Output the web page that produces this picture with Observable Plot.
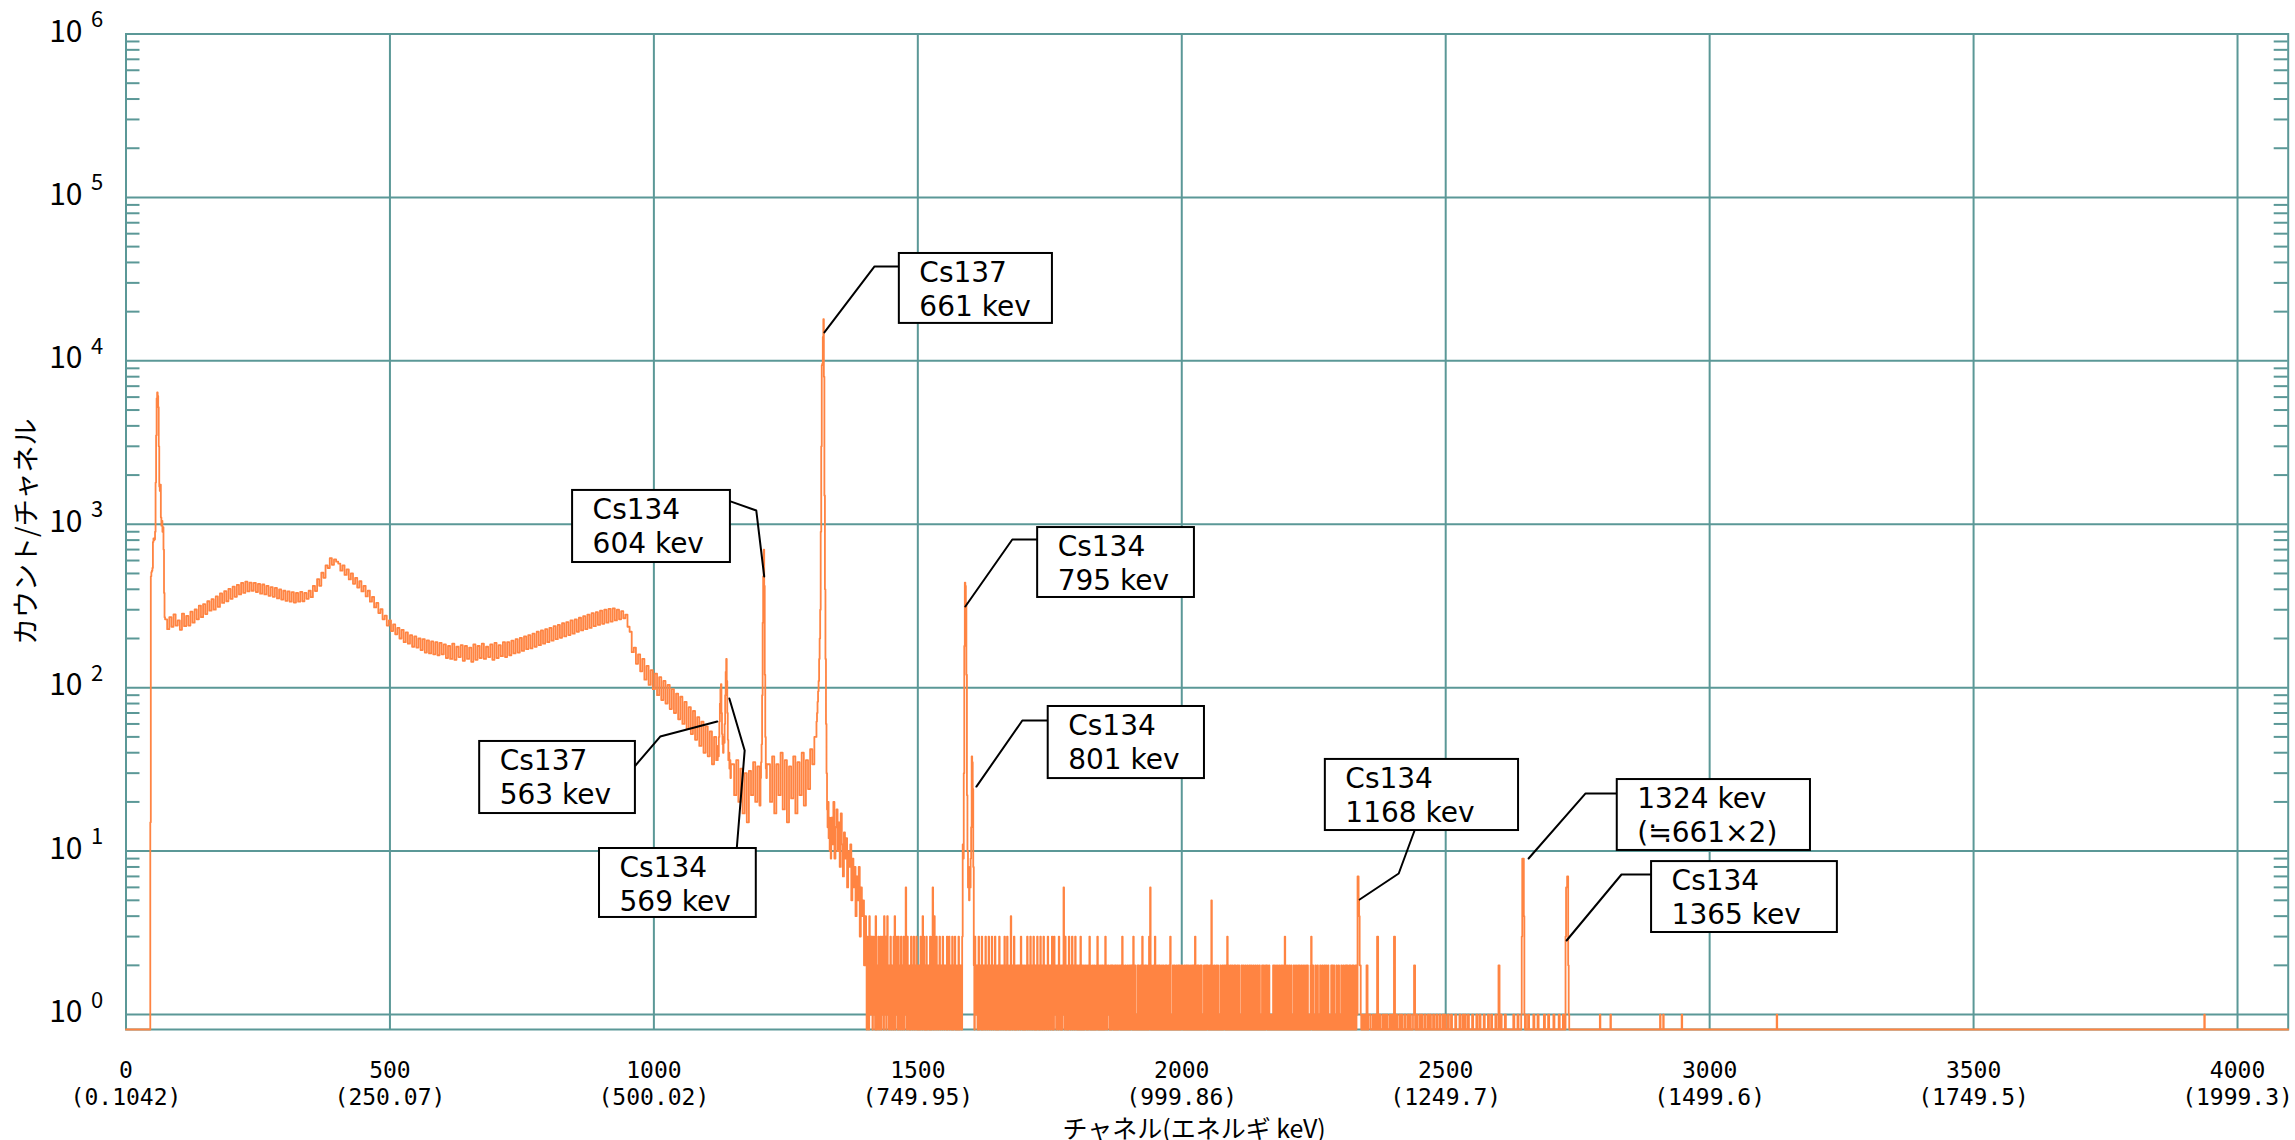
<!DOCTYPE html>
<html>
<head>
<meta charset="utf-8">
<script src="https://cdn.jsdelivr.net/npm/d3@7"></script>
<script src="https://cdn.jsdelivr.net/npm/@observablehq/plot@0.6"></script>
<style>
  html, body { margin: 0; padding: 0; background: #ffffff; }
  #chart svg { display: block; }
  g[aria-label="y-tick-label"], g[aria-label="y-tick-exp"] { font-feature-settings: "hwid" 1; }
</style>
</head>
<body>
<div id="chart"></div>
<script>
// ---------------- data ----------------
const xTicks = [0, 500, 1000, 1500, 2000, 2500, 3000, 3500, 4000];
const xEnergyLabels = ["0.1042", "250.07", "500.02", "749.95", "999.86", "1249.7", "1499.6", "1749.5", "1999.3"];
const yDecades = [1, 10, 100, 1000, 10000, 100000, 1000000];
const yExponents = ["0", "1", "2", "3", "4", "5", "6"];
const xTitle = "チャネル(エネルギ keV)";
const yTitle = "カウント/チャネル";

// spectrum: counts per channel (segments: start channel, channel step, counts)
const lowEnergyPeak = [15,480,510,520,540,780,820,800,810,900,1800,3500,5900,6400,6100,5200,3000,1700,1600,1750,1100,980,1050,900,960,700,380,270];
const continuumA = [
  262,228,270,236,281,240,258,226,284,238,
  275,240,292,250,301,262,318,270,325,282,338,296,
  348,300,362,312,378,330,390,338,402,350,415,360,426,372,438,380,446,388,440,392,
  438,385,432,376,428,372,420,365,412,360,408,352,400,346,392,340,388,336,384,332,380,336,386,338,380,350,
  392,358,420,390,462,420,505,470,560,540,620,565,610,590,
  575,520,560,490,530,460,500,432,470,410,448,388,420,362,392,336,360,310,330,286,302,262,276,240,258,222,244,212,
  232,200,226,190,218,186,210,178,206,176,200,170,198,164,195,162,192,160,190,158,188,160,
  184,152,180,150,186,148,178,154,182,146,180,150,176,144,184,148,180,152,186,150,178,154,184,148,188,152,182,156,190,154,
  190,158,194,162,198,164,202,168,206,172,210,174,214,178,220,182,224,186,228,190,
  232,194,238,198,242,202,248,206,252,210,258,214,262,220,268,224,274,228,280,232,
  286,238,290,242,296,246,300,250,304,254,306,258,300,262,294,266,
  280,236,220,165,176,140,160,126,150,112,136,104,128,98,
  122,90,116,84,110,80,104,74,98,70,92,64,88,60,82,56,76,52,72,48,66,44,62,40,58,38,54,34,50,36
];
const peak563569 = [44,38,50,62,80,98,105,70,52,45,40,50,46,60,90,125,150,110,70,48,36,40,32,36,28,34];
const continuumB = [34,22,36,20,32,17,30,15,31,22,35,20,33,19];
const peak604 = [28,35,45,90,250,480,700,420,120,50,32,28,34];
const continuumC = [34,20,38,17,34,22,40,18,36,15,33,21,38,17,35,22,40,19,36,24,42,34,50,62];
const peak661 = [70,82,95,110,150,200,300,900,3000,9400,9600,14000,18000,8000,1500,400,150,60,30,18,14,20,12,16,10,14,9];
const tail661 = [16,11,20,9,14,18,10,15,8,17,11,7,13,9,12,6,10,8,11,5,9,6,8,4,7,5,8,3,6,4,5,2,4];
// one digit per channel, channels 1402–1581
const lowCounts1 =
  "2031204213 1302312041 0213021302 3120421301 4120213012 2031402132 0312023102 1302162031 2012031202 " +
  "3102130210 2103120413 0210302120 1302036204 1203120213 0212031202 2103021302 1203102130 2012031021";
const peak795801 = [2,0,3,11,9,30,180,440,420,330,120,22,10,6,8,5,7,6,9,14,38,35,24,8,2,0,3,1,2];
// one digit per channel, channels 1611–2330
const lowCounts2 =
  "1201302120 3102120312 0213021203 1202130210 2103120212 0213021031 2012041202 1302102120 2120312021 0210213012 " +
  "2031202130 1202031202 0312021302 2102130212 0213020312 2012103120 1202162031 2012031202 1302120312 0210210320 " +
  "2102012102 1021302101 2012010213 0210201202 1020312012 2101202120 0120210201 2102013021 0120102102 1021201302 " +
  "2010120210 1201302102 0210120316 0201020130 1020120201 0210201020 2010210301 1020120102 0120201021 2010201202 " +
  "1020102012 0201301020 2010202101 0210202120 1021052010 2010210201 0120102012 1020130210 0210201020 2010210201 " +
  "1020120102 0102010210 2010201020 1020102010 0201201021 2010210101 1020120102 0102010210 2010301020 1020102010 " +
  "0201020102 1020102010 2010201201 0102310201 1020102010 0201020102 1020102010 0120210201 1020102010 0201020102 " +
  "2020102020 1020201020";
const peak1168 = [2,1,7,7,5,4,2,2,1,0];
// one digit per two channels, channels 2342–2640
const lowCounts3 = "1010201100 1010301001 0101001010 3010010100 1001010012 0100101001 0010100100 1001001010 0100100010 0010010100 " +
                   "1000100010 0100010001 0010001002 0100010000 0001000100";
const peak1324 = [0,1,3,9,9,9,4,1,0,1,0];
const lowCounts4 = "0100001000 1000001000 1000010000 100010";
const peak1365 = [0,3,6,6,7,7,2,1,0];
const singleCountChannels = [2792, 2812, 2906, 2912, 2947, 3127, 3937];
const lastChannel = 4096;

// annotations: box [channel left, channel right, log10 bottom, log10 top], leader points [channel, log10 count]
const annotations = [
  {label: "Cs137\n661 kev", box: [1465, 1755, 4.229, 4.657], leader: [[1465, 4.578], [1418, 4.578], [1323, 4.174]]},
  {label: "Cs134\n604 kev", box: [846, 1145, 2.766, 3.207], leader: [[1145, 3.140], [1194, 3.084], [1209, 2.681]]},
  {label: "Cs134\n795 kev", box: [1727, 2024, 2.552, 2.980], leader: [[1727, 2.907], [1679, 2.907], [1590, 2.497]]},
  {label: "Cs134\n801 kev", box: [1747, 2043, 1.444, 1.885], leader: [[1747, 1.799], [1698, 1.799], [1611, 1.395]]},
  {label: "Cs137\n563 kev", box: [670, 965, 1.230, 1.671], leader: [[965, 1.524], [1012, 1.701], [1120, 1.793]]},
  {label: "Cs134\n569 kev", box: [897, 1194, 0.594, 1.016], leader: [[1157, 1.016], [1172, 1.616], [1143, 1.934]]},
  {label: "Cs134\n1168 kev", box: [2272, 2638, 1.126, 1.561], leader: [[2441, 1.126], [2411, 0.863], [2337, 0.704]]},
  {label: "1324 kev\n(≒661×2)", box: [2825, 3191, 1.004, 1.438], leader: [[2825, 1.353], [2765, 1.353], [2657, 0.955]]},
  {label: "Cs134\n1365 kev", box: [2890, 3242, 0.502, 0.936], leader: [[2890, 0.857], [2833, 0.857], [2729, 0.453]]}
];

// ---------------- build ----------------
const expand = (start, step, counts) => counts.map((c, i) => ({ch: start + i * step, count: c}));
const digits = s => s.replace(/\s+/g, "").split("").map(Number);

const spectrum = [
  {ch: 0, count: 0}, {ch: 45, count: 0},
  ...expand(46, 1, lowEnergyPeak),
  ...expand(74, 4, continuumA),
  ...expand(1121, 1, peak563569),
  ...expand(1148, 4, continuumB),
  ...expand(1202, 1, peak604),
  ...expand(1216, 4, continuumC),
  ...expand(1309, 1, peak661),
  ...expand(1336, 2, tail661),
  ...expand(1402, 1, digits(lowCounts1)),
  ...expand(1582, 1, peak795801),
  ...expand(1611, 1, digits(lowCounts2)),
  ...expand(2331, 1, peak1168),
  ...expand(2342, 2, digits(lowCounts3)),
  ...expand(2642, 1, peak1324),
  ...expand(2654, 2, digits(lowCounts4)),
  ...expand(2726, 1, peak1365)
];
for (const c of singleCountChannels) {
  spectrum.push({ch: c, count: 1}, {ch: c + 1, count: 0});
}
spectrum.push({ch: lastChannel, count: 0});

const minorTicks = [];
for (let d = 0; d < 6; d++) for (let k = 2; k <= 9; k++) minorTicks.push(k * 10 ** d);

// ---------------- layout / style ----------------
const W = 2295, H = 1140;
const mL = 125.5, mR = 7.3, mT = 33.5, mB = 111;
const plotW = W - mL - mR;
const yFloor = 0.81;
const teal = "#5b9897";
const orange = "#ff8442";
const fontJP = "'Noto Sans CJK JP', 'Noto Sans CJK SC', sans-serif";
const fontBox = "'DejaVu Sans', Verdana, sans-serif";
const fontTick = "'DejaVu Sans Mono', 'Liberation Mono', monospace";

const leaderPts = annotations.flatMap((a, i) => a.leader.map(([c, l]) => ({id: i, x: c, y: 10 ** l})));

const chart = Plot.plot({
  width: W, height: H,
  marginLeft: mL, marginRight: mR, marginTop: mT, marginBottom: mB,
  style: {background: "#ffffff", overflow: "visible"},
  x: {domain: [0, lastChannel], axis: null},
  y: {type: "log", domain: [yFloor, 1e6], axis: null},
  marks: [
    Plot.ruleX(xTicks, {stroke: teal, strokeWidth: 2}),
    Plot.ruleY(yDecades, {stroke: teal, strokeWidth: 2}),
    Plot.ruleY(minorTicks, {stroke: teal, strokeWidth: 2, insetRight: plotW - 14}),
    Plot.ruleY(minorTicks, {stroke: teal, strokeWidth: 2, insetLeft: plotW - 14}),
    Plot.frame({stroke: teal, strokeWidth: 2}),
    Plot.line(spectrum, {x: "ch", y: d => Math.max(d.count, yFloor), curve: "step-after", stroke: orange, strokeWidth: 1.8}),
    Plot.line(leaderPts, {x: "x", y: "y", z: "id", stroke: "#000", strokeWidth: 2}),
    Plot.rect(annotations, {x1: a => a.box[0], x2: a => a.box[1], y1: a => 10 ** a.box[2], y2: a => 10 ** a.box[3], fill: "#ffffff", stroke: "#000", strokeWidth: 2}),
    Plot.text(annotations, {x: a => a.box[0], y: a => 10 ** a.box[3], text: "label", textAnchor: "start", lineAnchor: "top",
      dx: 20, dy: 4, fontSize: 28, lineHeight: 1.22, fontFamily: fontBox, fill: "#000"}),
    Plot.text(xTicks, {x: d => d, frameAnchor: "bottom", text: (d, i) => `${d}\n(${xEnergyLabels[i]})`, lineAnchor: "top", textAnchor: "middle",
      dy: 29, lineHeight: 1.17, fontSize: 23, fontFamily: fontTick, fill: "#000", ariaLabel: "x-tick-label"}),
    Plot.text(yDecades, {y: d => d, frameAnchor: "left", text: () => "10", textAnchor: "end", lineAnchor: "middle", dx: -43.5, dy: -2,
      fontSize: 30, fontFamily: fontJP, fill: "#000", ariaLabel: "y-tick-label"}),
    Plot.text(yDecades, {y: d => d, frameAnchor: "left", text: (d, i) => yExponents[i], textAnchor: "start", lineAnchor: "middle", dx: -35, dy: -14,
      fontSize: 22, fontFamily: fontJP, fill: "#000", ariaLabel: "y-tick-exp"}),
    Plot.text([xTitle], {frameAnchor: "bottom", text: d => d, textAnchor: "middle", lineAnchor: "middle", dx: -13, dy: 100,
      fontSize: 25, fontFamily: fontJP, fill: "#000"}),
    Plot.text([yTitle], {frameAnchor: "left", text: d => d, rotate: -90, textAnchor: "middle", lineAnchor: "middle", dx: -98.5,
      fontSize: 27, fontFamily: fontJP, fill: "#000"})
  ]
});
document.getElementById("chart").appendChild(chart);

// condense the bitmap-like lettering of the y tick labels horizontally (narrow half-width digits as in the reference)
function condense(label, targetWidth, anchor) {
  chart.querySelectorAll(`g[aria-label="${label}"] text`).forEach(t => {
    const b = t.getBBox();
    if (!b.width) return;
    const sx = targetWidth / b.width;
    const ax = anchor === "end" ? b.x + b.width : anchor === "start" ? b.x : b.x + b.width / 2;
    const prev = t.getAttribute("transform") || "";
    t.setAttribute("transform", `${prev} translate(${ax},0) scale(${sx},1) translate(${-ax},0)`.trim());
  });
}
condense("y-tick-label", 23.5, "end");
condense("y-tick-exp", 8.5, "start");
</script>
</body>
</html>
